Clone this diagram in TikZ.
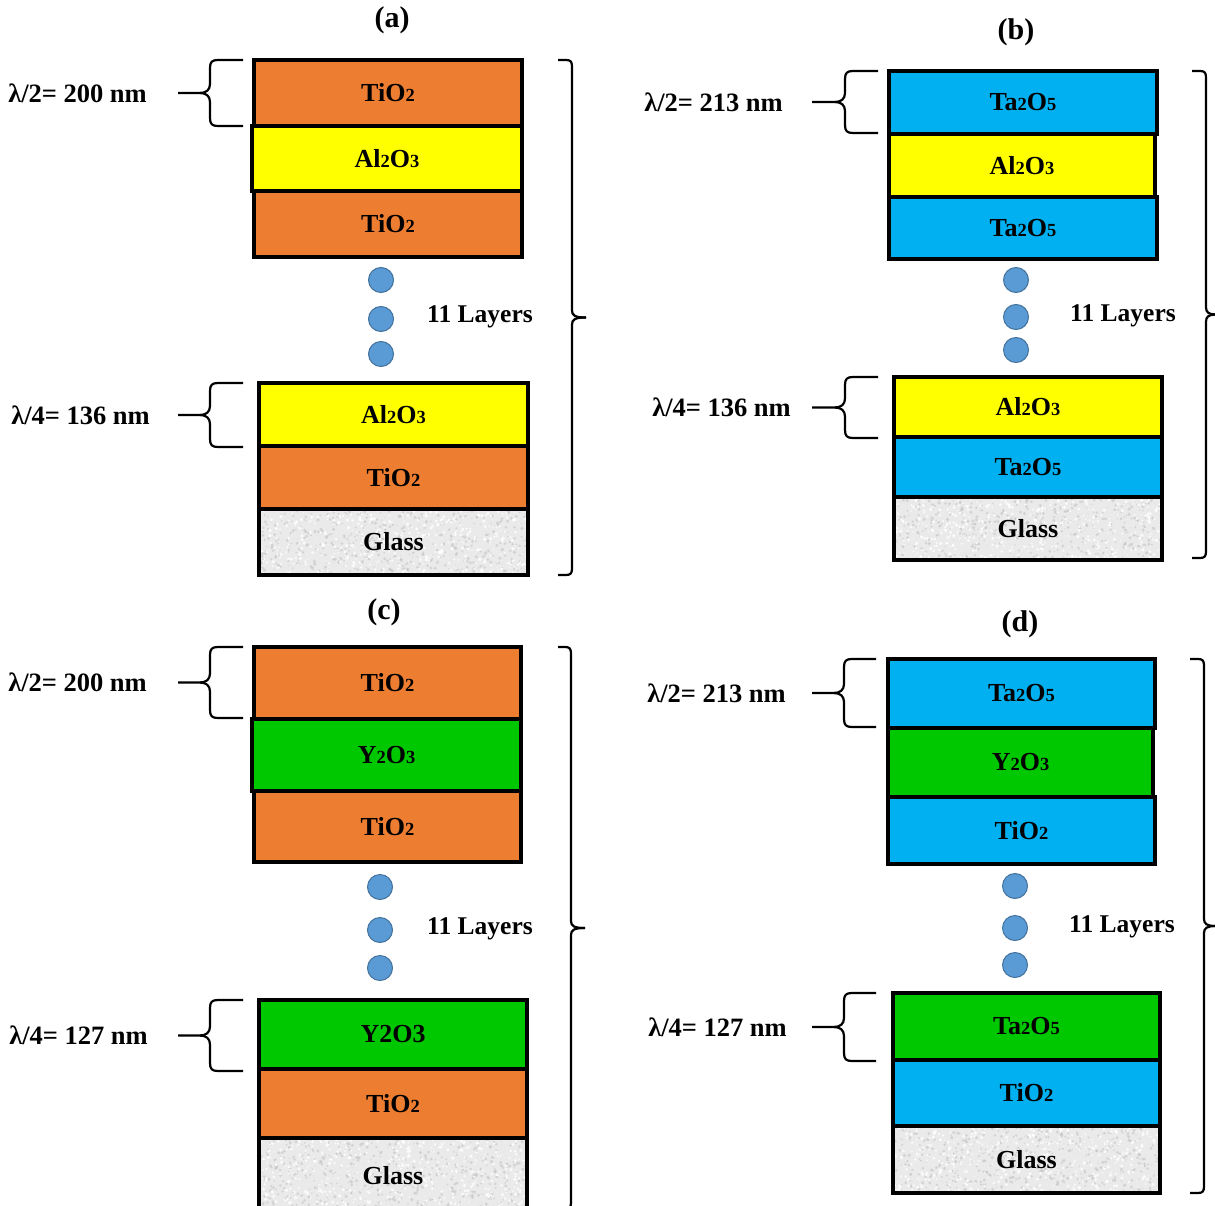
\documentclass[tikz,border=0pt]{standalone}
\usepackage{fontspec}
\setmainfont{Liberation Serif}
\usetikzlibrary{calc}

\definecolor{oxorange}{HTML}{ED7D31}
\definecolor{oxyellow}{HTML}{FFFF00}
\definecolor{oxblue}{HTML}{00B0F0}
\definecolor{oxgreen}{HTML}{00C800}
\definecolor{glassbase}{HTML}{EAEAEA}
\definecolor{glassdark}{HTML}{C4C4C4}
\definecolor{dotfill}{HTML}{5B9BD5}
\definecolor{dotline}{HTML}{41719C}

% small digits used as chemical indices
\newcommand\ix[1]{{\fontsize{18.5}{18}\selectfont #1}}

% left curly brace with a pointer line: right end x, top y, bottom y, spine x, tip x, tip name
\newcommand\layerbrace[6]{%
  \pgfmathsetmacro\bm{(#2+#3)/2}%
  \coordinate (#6) at (#5,\bm);
  \draw[bracelinestyle] (#1,#2) -- ({#4+8},#2) .. controls ({#4+2},#2) and (#4,{#2+2}) .. (#4,{#2+8})
    -- (#4,{\bm-9}) .. controls (#4,{\bm-3}) and ({#4-4},\bm) .. ({#4-10},\bm) -- (#6);
  \draw[bracelinestyle] ({#4-10},\bm) .. controls ({#4-4},\bm) and (#4,{\bm+3}) .. (#4,{\bm+9})
    -- (#4,{#3-8}) .. controls (#4,{#3-2}) and ({#4+2},#3) .. ({#4+8},#3) -- (#1,#3);
}
% right curly brace spanning a whole stack: left end x, top y, bottom y, spine x, tip x
\newcommand\stackbrace[5]{%
  \pgfmathsetmacro\bm{(#2+#3)/2}%
  \draw[bracelinestyle] (#1,#2) -- ({#4-6},#2) .. controls ({#4-1},#2) and (#4,{#2+2}) .. (#4,{#2+7})
    -- (#4,{\bm-7}) .. controls (#4,{\bm-2}) and ({#4+3},\bm) .. (#5,\bm);
  \draw[bracelinestyle] (#5,\bm) .. controls ({#4+3},\bm) and (#4,{\bm+2}) .. (#4,{\bm+7})
    -- (#4,{#3-7}) .. controls (#4,{#3-2}) and ({#4-1},#3) .. ({#4-6},#3) -- (#1,#3);
}

\tikzset{
  layer/.style={draw=black, line width=3.2pt, inner sep=0pt,
    font=\fontsize{26}{30}\selectfont\bfseries, text=black},
  glass/.style={layer, fill=glassbase, path picture={
    \foreach \i in {1,...,650}{
      \pgfmathsetmacro\gx{rnd}\pgfmathsetmacro\gy{rnd}\pgfmathsetmacro\gs{0.5+1.3*rnd}
      \fill[glassdark, opacity=0.6]
        ($(path picture bounding box.south west)+(\gx*272,-\gy*82)$) circle (\gs);
      \pgfmathsetmacro\hx{rnd}\pgfmathsetmacro\hy{rnd}
      \fill[white, opacity=0.85]
        ($(path picture bounding box.south west)+(\hx*272,-\hy*82)$) circle (\gs);
    }}},
  dot/.style={circle, fill=dotfill, draw=dotline, line width=1pt, minimum size=25pt, inner sep=0pt},
  dimlabel/.style={anchor=east, font=\fontsize{26.5}{30}\selectfont\bfseries, inner sep=0pt},
  countlabel/.style={font=\fontsize{25.5}{30}\selectfont\bfseries, inner sep=0pt},
  paneltitle/.style={font=\fontsize{30}{34}\selectfont\bfseries, inner sep=0pt},
  bracelinestyle/.style={draw=black, line width=2.2pt},
}

\begin{document}
\begin{tikzpicture}[x=1pt, y=-1pt]
\pgfmathsetseed{7}
\useasboundingbox (0,0) rectangle (1215,1206);
\clip (0,0) rectangle (1215,1206);

% ---------- (a) TiO2 / Al2O3 ----------
\node[paneltitle] (ta) at (392,20) {(a)};
\node[layer, fill=oxorange, minimum width=268pt, minimum height=66pt] (a1) at (388,93) {TiO\ix{2}};
\node[layer, fill=oxyellow, minimum width=270pt, minimum height=65pt] (a2) at (387,158.5) {Al\ix{2}O\ix{3}};
\node[layer, fill=oxorange, minimum width=268pt, minimum height=66pt] (a3) at (388,224) {TiO\ix{2}};
\node[dot] (a7) at (381,280) {};
\node[dot] (a8) at (381,319) {};
\node[dot] (a9) at (381,354) {};
\node[countlabel] (an) at (480,317) {11 Layers};
\node[layer, fill=oxyellow, minimum width=269pt, minimum height=63pt] (a4) at (393.5,414.5) {Al\ix{2}O\ix{3}};
\node[layer, fill=oxorange, minimum width=269pt, minimum height=63pt] (a5) at (393.5,477.5) {TiO\ix{2}};
\node[glass, minimum width=269pt, minimum height=66pt] (a6) at (393.5,542) {Glass};
\layerbrace{243}{60}{126}{210}{178}{atu}
\node[dimlabel] (alu) at ([xshift=-31pt]atu) {λ/2= 200 nm};
\layerbrace{243}{383}{447}{210}{178}{atl}
\node[dimlabel] (all) at ([xshift=-28pt]atl) {λ/4= 136 nm};
\stackbrace{558}{60}{575}{572}{586}

% ---------- (b) Ta2O5 / Al2O3 ----------
\node[paneltitle] (tb) at (1016,32) {(b)};
\node[layer, fill=oxblue, minimum width=268pt, minimum height=63pt] (b1) at (1023,102.5) {Ta\ix{2}O\ix{5}};
\node[layer, fill=oxyellow, minimum width=266pt, minimum height=63pt] (b2) at (1022,165.5) {Al\ix{2}O\ix{3}};
\node[layer, fill=oxblue, minimum width=268pt, minimum height=62pt] (b3) at (1023,228) {Ta\ix{2}O\ix{5}};
\node[dot] (b7) at (1016,280) {};
\node[dot] (b8) at (1016,317) {};
\node[dot] (b9) at (1016,350) {};
\node[countlabel] (bn) at (1123,316) {11 Layers};
\node[layer, fill=oxyellow, minimum width=268pt, minimum height=60pt] (b4) at (1028,407) {Al\ix{2}O\ix{3}};
\node[layer, fill=oxblue, minimum width=268pt, minimum height=60pt] (b5) at (1028,467) {Ta\ix{2}O\ix{5}};
\node[glass, minimum width=268pt, minimum height=63pt] (b6) at (1028,528.5) {Glass};
\layerbrace{878}{71}{133}{845}{812}{btu}
\node[dimlabel] (blu) at ([xshift=-29pt]btu) {λ/2= 213 nm};
\layerbrace{878}{377}{438}{845}{812}{btl}
\node[dimlabel] (bll) at ([xshift=-21pt]btl) {λ/4= 136 nm};
\stackbrace{1192}{71}{558}{1206}{1216}

% ---------- (c) TiO2 / Y2O3 ----------
\node[paneltitle] (tc) at (384,612) {(c)};
\node[layer, fill=oxorange, minimum width=267pt, minimum height=72pt] (c1) at (387.5,683) {TiO\ix{2}};
\node[layer, fill=oxgreen, minimum width=269pt, minimum height=72pt] (c2) at (386.5,755) {Y\ix{2}O\ix{3}};
\node[layer, fill=oxorange, minimum width=267pt, minimum height=71pt] (c3) at (387.5,826.5) {TiO\ix{2}};
\node[dot] (c7) at (380,887) {};
\node[dot] (c8) at (380,930) {};
\node[dot] (c9) at (380,968) {};
\node[countlabel] (cn) at (480,929) {11 Layers};
\node[layer, fill=oxgreen, minimum width=268pt, minimum height=69pt] (c4) at (393,1034.5) {Y2O3};
\node[layer, fill=oxorange, minimum width=268pt, minimum height=69pt] (c5) at (393,1103.5) {TiO\ix{2}};
\node[glass, minimum width=268pt, minimum height=76pt] (c6) at (393,1176) {Glass};
\layerbrace{243}{647}{718}{210}{178}{ctu}
\node[dimlabel] (clu) at ([xshift=-31pt]ctu) {λ/2= 200 nm};
\layerbrace{243}{1000}{1071}{210}{178}{ctl}
\node[dimlabel] (cll) at ([xshift=-30pt]ctl) {λ/4= 127 nm};
\stackbrace{558}{647}{1209}{571}{585}

% ---------- (d) Ta2O5 / Y2O3 ----------
\node[paneltitle] (td) at (1020,624) {(d)};
\node[layer, fill=oxblue, minimum width=267pt, minimum height=69pt] (d1) at (1021.5,693.5) {Ta\ix{2}O\ix{5}};
\node[layer, fill=oxgreen, minimum width=265pt, minimum height=69pt] (d2) at (1020.5,762.5) {Y\ix{2}O\ix{3}};
\node[layer, fill=oxblue, minimum width=267pt, minimum height=67pt] (d3) at (1021.5,830.5) {TiO\ix{2}};
\node[dot] (d7) at (1015,886) {};
\node[dot] (d8) at (1015,928) {};
\node[dot] (d9) at (1015,965) {};
\node[countlabel] (dn) at (1122,927) {11 Layers};
\node[layer, fill=oxgreen, minimum width=267pt, minimum height=67pt] (d4) at (1026.5,1026.5) {Ta\ix{2}O\ix{5}};
\node[layer, fill=oxblue, minimum width=267pt, minimum height=66pt] (d5) at (1026.5,1093) {TiO\ix{2}};
\node[glass, minimum width=267pt, minimum height=67pt] (d6) at (1026.5,1159.5) {Glass};
\layerbrace{876}{659}{727}{844}{812}{dtu}
\node[dimlabel] (dlu) at ([xshift=-26pt]dtu) {λ/2= 213 nm};
\layerbrace{876}{993}{1061}{844}{812}{dtl}
\node[dimlabel] (dll) at ([xshift=-25pt]dtl) {λ/4= 127 nm};
\stackbrace{1190}{659}{1193}{1204}{1216}
\end{tikzpicture}
\end{document}
